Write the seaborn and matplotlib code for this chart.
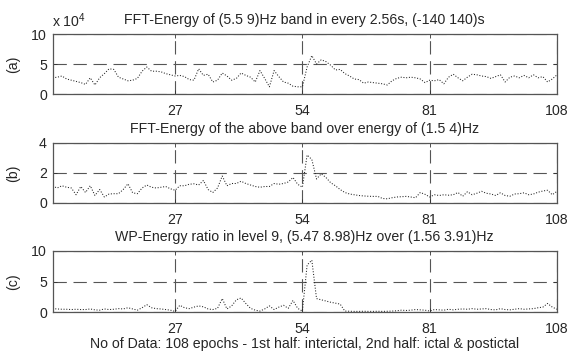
import numpy as np
import pandas as pd
import matplotlib
matplotlib.use("Agg")
import matplotlib.pyplot as plt
import seaborn as sns

# ---- data ----
epochs = list(range(1, 109))
fft_energy_1e4 = [
    2.7, 2.8, 3.0, 2.5, 2.3, 2.1, 1.9, 1.6, 2.7, 1.5,
    2.7, 3.4, 4.2, 4.1, 2.8, 2.5, 2.2, 2.3, 2.6, 3.8,
    4.5, 3.8, 3.8, 3.7, 3.4, 3.2, 3.0, 3.1, 2.9, 2.4,
    2.3, 4.2, 3.1, 3.3, 2.0, 2.3, 3.5, 3.0, 2.3, 2.6,
    3.5, 3.1, 2.8, 2.0, 3.9, 2.6, 1.2, 3.9, 2.9, 2.0,
    1.8, 1.3, 1.2, 1.2, 4.5, 6.4, 5.0, 5.7, 5.4, 4.8,
    4.0, 4.1, 3.4, 3.0, 2.5, 2.4, 1.8, 2.0, 1.9, 1.8,
    1.7, 1.5, 2.2, 2.6, 2.8, 2.7, 2.8, 2.7, 2.5, 1.9,
    2.3, 2.2, 2.4, 1.7, 2.8, 3.3, 2.7, 2.2, 2.8, 3.3,
    3.2, 3.0, 2.9, 2.6, 2.9, 3.2, 2.0, 2.8, 3.0, 2.7,
    3.1, 2.7, 3.2, 2.7, 2.9, 2.0, 2.5, 3.2,
]
fft_ratio = [
    1.13, 1.0, 1.15, 1.05, 1.0, 0.55, 1.1, 0.7, 1.15, 0.5,
    0.9, 0.4, 0.6, 0.62, 0.62, 0.9, 1.28, 0.68, 0.62, 1.0,
    1.2, 1.05, 1.0, 1.05, 1.1, 0.95, 0.85, 1.15, 1.15, 1.25,
    1.28, 1.2, 1.5, 0.9, 0.7, 1.0, 1.8, 1.15, 1.3, 1.3,
    1.45, 1.3, 1.2, 1.1, 1.05, 1.1, 1.1, 1.3, 1.25, 1.3,
    1.4, 1.7, 1.25, 1.05, 3.2, 2.9, 1.6, 1.95, 1.7, 1.35,
    1.15, 0.9, 0.7, 0.6, 0.55, 0.5, 0.47, 0.45, 0.44, 0.44,
    0.3, 0.28, 0.35, 0.4, 0.42, 0.44, 0.4, 0.35, 0.7, 0.58,
    0.4, 0.55, 0.5, 0.55, 0.52, 0.55, 0.7, 0.45, 0.75, 0.55,
    0.65, 0.78, 0.65, 0.6, 0.5, 0.68, 0.5, 0.45, 0.6, 0.62,
    0.68, 0.55, 0.6, 0.72, 0.8, 0.85, 0.55, 0.78,
]
wp_ratio = [
    0.55, 0.5, 0.45, 0.45, 0.4, 0.45, 0.4, 0.4, 0.5, 0.35,
    0.3, 0.5, 0.4, 0.45, 0.55, 0.5, 0.7, 0.5, 0.3, 0.7,
    1.2, 0.7, 0.55, 0.5, 0.4, 0.3, 0.1, 1.1, 0.7, 0.55,
    0.8, 1.0, 0.85, 0.5, 0.4, 0.6, 2.2, 0.5, 1.0, 2.0,
    2.3, 1.4, 0.6, 0.3, 0.15, 0.5, 1.0, 0.4, 0.8, 1.1,
    0.6, 1.9, 0.6, 0.15, 7.7, 8.5, 2.2, 2.0, 1.8, 1.6,
    1.45, 1.3, 0.15, 0.12, 0.1, 0.1, 0.12, 0.1, 0.1, 0.12,
    0.1, 0.12, 0.15, 0.2, 0.3, 0.25, 0.3, 0.4, 0.35, 0.3,
    0.15, 0.4, 0.35, 0.3, 0.45, 0.35, 0.45, 0.5, 0.45, 0.55,
    0.45, 0.5, 0.55, 0.4, 0.35, 0.55, 0.4, 0.35, 0.45, 0.55,
    0.45, 0.5, 0.55, 0.7, 0.8, 1.4, 0.8, 0.45,
]
xticks = [27, 54, 81, 108]
titles = [
    "FFT-Energy of (5.5 9)Hz band in every 2.56s, (-140 140)s",
    "FFT-Energy of the above band over energy of (1.5 4)Hz",
    "WP-Energy ratio in level 9, (5.47 8.98)Hz over (1.56 3.91)Hz",
]
panel_labels = ["(a)", "(b)", "(c)"]
yticks_list = [[0, 5, 10], [0, 2, 4], [0, 5, 10]]
xlabel_text = "No of Data: 108 epochs - 1st half: interictal, 2nd half: ictal & postictal"

# ---- style ----
sns.set_theme(style="white")
plt.rcParams["font.family"] = ["Liberation Sans", "DejaVu Sans"]
plt.rcParams["mathtext.fontset"] = "custom"
plt.rcParams["mathtext.rm"] = "Liberation Sans"
plt.rcParams["mathtext.it"] = "Liberation Sans:italic"

FS = 10.2

fig = plt.figure(figsize=(5.72, 3.52), dpi=100)
fig.patch.set_facecolor("white")

W, H = 572.0, 352.0
left_px, right_px = 52.5, 557.0
panels_px = [(34, 94), (143, 203), (251, 312)]

series = [fft_energy_1e4, fft_ratio, wp_ratio]
for i, (top, bot) in enumerate(panels_px):
    ax = fig.add_axes([left_px / W, 1 - bot / H, (right_px - left_px) / W, (bot - top) / H])
    df = pd.DataFrame({"epoch": epochs, "value": series[i]})
    sns.lineplot(data=df, x="epoch", y="value", ax=ax, color="#222222",
                 linestyle=":", linewidth=0.75, estimator=None, sort=False)
    ax.set_xlim(1, 108)
    yt = yticks_list[i]
    ax.set_ylim(yt[0], yt[-1])
    ax.set_xticks(xticks)
    ax.set_yticks(yt)
    ax.set_xticklabels([str(t) for t in xticks], fontsize=FS)
    ax.set_yticklabels([str(t) for t in yt], fontsize=FS)
    ax.tick_params(axis="both", direction="in", length=3, width=0.6,
                   top=True, right=True, bottom=True, left=True, color="#333333")
    ax.tick_params(axis="x", pad=7)
    ax.tick_params(axis="y", pad=4)
    ax.grid(True, linestyle=(0, (12, 6)), color="#555555", linewidth=0.8)
    for s in ax.spines.values():
        s.set_color("#555555")
        s.set_linewidth(0.9)
        s.set_visible(True)
    ax.set_xlabel("")
    ax.set_ylabel(panel_labels[i], fontsize=FS)
    ax.yaxis.set_label_coords(-0.065, 0.5)
    ax.set_title(titles[i], fontsize=FS, pad=7)
    if i == 0:
        ax.text(0.0, 1.06, r"x 10$^{\mathrm{4}}$", transform=ax.transAxes,
                fontsize=FS, ha="left", va="bottom")
    if i == 2:
        ax.set_xlabel(xlabel_text, fontsize=FS, labelpad=1)

fig.savefig("out.png", dpi=100, facecolor="white")
